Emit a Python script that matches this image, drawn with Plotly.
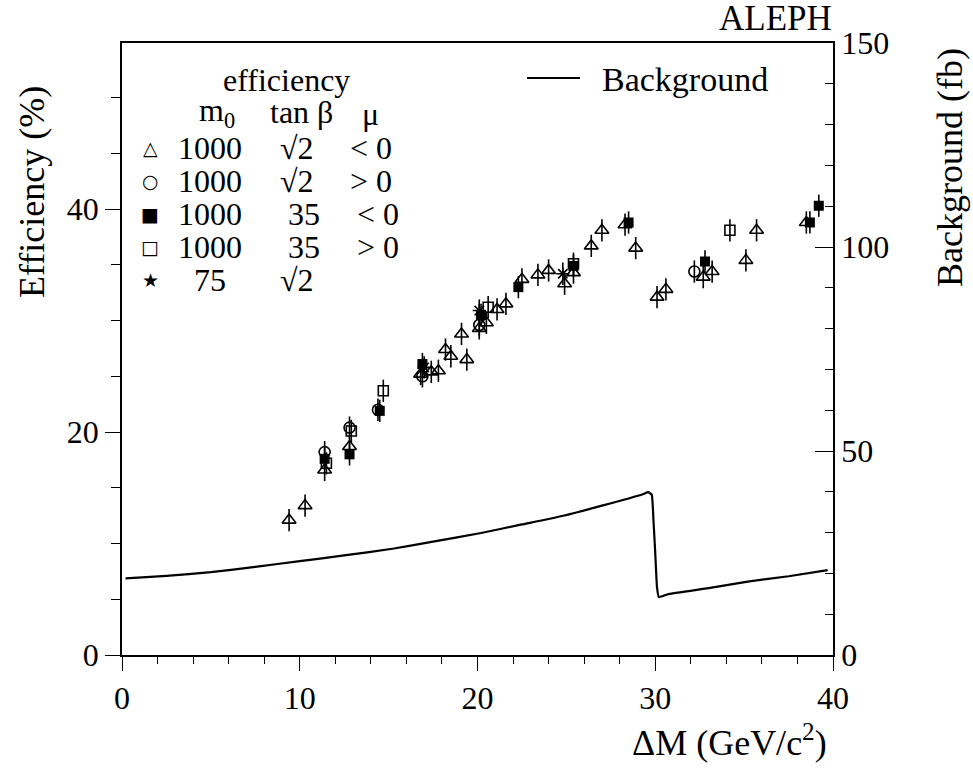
import plotly.graph_objects as go

# efficiency points (%)
tri_x = [9.4, 10.3, 11.4, 12.8, 16.8, 17.4, 17.8, 18.2, 18.5, 19.1, 19.4, 20.1, 20.5, 21.1, 21.6,
         22.5, 23.4, 24.0, 24.9, 25.4, 26.4, 27.0, 28.3, 28.9, 30.1, 30.6, 32.7, 33.2, 35.1, 35.7, 38.5]
tri_y = [12.1, 13.4, 16.6, 18.7, 25.2, 25.4, 25.5, 27.4, 26.8, 28.8, 26.5, 29.3, 29.8, 31.0, 31.5,
         33.7, 34.1, 34.5, 33.3, 34.3, 36.7, 38.1, 38.6, 36.5, 32.1, 32.8, 33.9, 34.4, 35.4, 38.1, 38.8]

circ_x = [11.4, 12.8, 14.4, 16.9, 20.1, 32.2]
circ_y = [18.2, 20.4, 22.0, 25.0, 29.6, 34.4]

sqf_x = [11.4, 12.8, 14.5, 16.9, 20.2, 22.3, 25.4, 28.5, 32.8, 38.7, 39.2]
sqf_y = [17.6, 18.0, 21.9, 26.1, 30.5, 33.0, 34.9, 38.8, 35.3, 38.8, 40.3]

sqo_x = [11.5, 12.9, 14.7, 20.6, 25.4, 34.2]
sqo_y = [17.2, 20.1, 23.7, 31.2, 35.1, 38.1]

star_x = [17.0, 20.1, 24.8]
star_y = [25.8, 30.9, 34.2]

eff_err = 1.0

# background (fb), right axis
bg_x = [0.2, 2.5, 5.0, 7.5, 10.0, 12.5, 15.3, 17.5, 20.2, 22.5, 24.9, 27.0, 29.3, 29.6, 29.8,
        29.9, 30.0, 30.1, 30.2, 30.4, 30.7, 33.0, 35.2, 37.5, 39.7]
bg_y = [18.8, 19.4, 20.3, 21.6, 23.0, 24.4, 26.1, 27.8, 29.9, 32.0, 34.2, 36.6, 39.4, 39.9, 39.3,
        33.0, 25.0, 16.5, 14.2, 14.4, 14.9, 16.4, 18.0, 19.3, 20.8]

# legend table rows
leg_sym = ["△", "○", "■", "□", "★"]
leg_m0 = ["1000", "1000", "1000", "1000", "75"]
leg_tb = ["√2", "√2", "35", "35", "√2"]
leg_mu = ["< 0", "> 0", "< 0", "> 0", ""]
leg_tb_x = [297, 297, 304, 304, 297]
leg_mu_x = [371, 371, 378, 378, 0]

FONT = '"Liberation Serif", "Times New Roman", Times, serif'
W, H = 973, 776
L, R, T, B = 122, 833, 43, 655


def px(x):
    return (x - L) / (R - L)


def py(y):
    return (B - y) / (B - T)


fig = go.Figure()

ebar = dict(type="constant", value=eff_err, width=0, thickness=1.6, color="black")

fig.add_trace(go.Scatter(x=bg_x, y=bg_y, mode="lines", yaxis="y2",
                         line=dict(color="black", width=2.2, shape="spline", smoothing=0.4),
                         showlegend=False))

fig.add_trace(go.Scatter(x=tri_x, y=tri_y, mode="markers", error_y=ebar, showlegend=False,
                         marker=dict(symbol="triangle-up-open", size=12, color="black",
                                     line=dict(width=1.6))))
fig.add_trace(go.Scatter(x=circ_x, y=circ_y, mode="markers", error_y=ebar, showlegend=False,
                         marker=dict(symbol="circle-open", size=11, color="black",
                                     line=dict(width=1.6))))
fig.add_trace(go.Scatter(x=sqo_x, y=sqo_y, mode="markers", error_y=ebar, showlegend=False,
                         marker=dict(symbol="square-open", size=10, color="black",
                                     line=dict(width=1.6))))
fig.add_trace(go.Scatter(x=sqf_x, y=sqf_y, mode="markers", error_y=ebar, showlegend=False,
                         marker=dict(symbol="square", size=10, color="black")))
fig.add_trace(go.Scatter(x=star_x, y=star_y, mode="markers", error_y=ebar, showlegend=False,
                         marker=dict(symbol="asterisk-open", size=11, color="black",
                                     line=dict(width=1.6, color="black"))))

tickfont = dict(family=FONT, size=32, color="black")

fig.update_layout(
    width=W, height=H,
    margin=dict(l=L, r=W - R, t=T, b=H - B),
    paper_bgcolor="white", plot_bgcolor="white",
    font=dict(family=FONT, color="black"),
    xaxis=dict(range=[0, 40], dtick=10, tickfont=tickfont, showgrid=False, zeroline=False,
               showline=True, linecolor="black", linewidth=1.5, mirror=True,
               ticks="outside", ticklen=14, tickwidth=1.3, tickcolor="black",
               minor=dict(dtick=2, ticks="outside", ticklen=7, tickwidth=1.1, tickcolor="black")),
    yaxis=dict(range=[0, 54.9], dtick=20, tickfont=tickfont, showgrid=False, zeroline=False,
               showline=True, linecolor="black", linewidth=1.5,
               ticks="outside", ticklen=15, tickwidth=1.3, tickcolor="black",
               minor=dict(dtick=5, ticks="outside", ticklen=9, tickwidth=1.1, tickcolor="black")),
    yaxis2=dict(range=[0, 150], dtick=50, tickfont=tickfont, overlaying="y", side="right",
                showgrid=False, zeroline=False, showline=True, linecolor="black", linewidth=1.5,
                ticks="inside", ticklen=18, tickwidth=1.3, tickcolor="black",
                minor=dict(dtick=10, ticks="inside", ticklen=8, tickwidth=1.1, tickcolor="black")),
)

ann = []
title_f = dict(family=FONT, size=36, color="black")
txt = dict(family=FONT, size=32, color="black")

# axis titles and label
ann.append(dict(text="Efficiency (%)", x=px(32), y=py(192), textangle=-90, font=title_f))
ann.append(dict(text="Background (fb)", x=px(950), y=py(168), textangle=-90, font=title_f))
ann.append(dict(text="ΔM (GeV/c<sup>2</sup>)", x=px(829), y=py(740), xanchor="right", font=title_f))
ann.append(dict(text="ALEPH", x=px(834), y=py(19), xanchor="right", font=dict(family=FONT, size=35)))

# legend table
ann.append(dict(text="efficiency", x=px(286), y=py(80), font=txt))
ann.append(dict(text="m<sub>0</sub>", x=px(217), y=py(112), font=txt))
ann.append(dict(text="tan β", x=px(301), y=py(112), font=txt))
ann.append(dict(text="μ", x=px(370), y=py(114), font=txt))
for i in range(len(leg_sym)):
    yy = py(148 + 33 * i)
    ann.append(dict(text=leg_sym[i], x=px(150), y=yy,
                    font=dict(family="DejaVu Sans", size=19, color="black")))
    ann.append(dict(text=leg_m0[i], x=px(210), y=yy, font=txt))
    ann.append(dict(text=leg_tb[i], x=px(leg_tb_x[i]), y=yy, font=txt))
    if leg_mu[i]:
        ann.append(dict(text=leg_mu[i], x=px(leg_mu_x[i]), y=yy, font=txt))

ann.append(dict(text="Background", x=px(600), y=py(79), xanchor="left", font=dict(family=FONT, size=34)))

for a in ann:
    a.update(xref="paper", yref="paper", showarrow=False)
    a.setdefault("xanchor", "center")
    a.setdefault("yanchor", "middle")
fig.update_layout(annotations=ann)

fig.add_shape(type="line", xref="paper", yref="paper", x0=px(527), x1=px(580), y0=py(78), y1=py(78),
              line=dict(color="black", width=2.2))

fig.write_html("out.html", config={"displayModeBar": False},
               post_script="document.body.style.margin='0px';")
